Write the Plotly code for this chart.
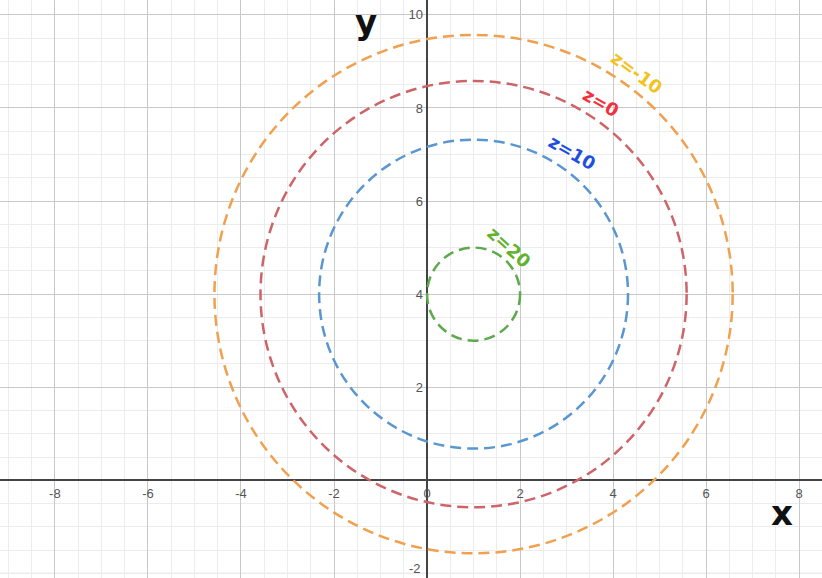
import plotly.graph_objects as go

# ---- data ----
levels = [-10, 0, 10, 20]
radii = [5.57, 4.58, 3.32, 1.0]
center_x = 1.0
center_y = 4.0
level_labels = ["z=-10", "z=0", "z=10", "z=20"]
label_x = [4.51, 3.74, 3.12, 1.78]
label_y = [8.77, 8.12, 7.05, 5.01]
x_tick_vals = [-8, -6, -4, -2, 0, 2, 4, 6, 8]
x_tick_text = ["-8", "-6", "-4", "-2", "0", "2", "4", "6", "8"]
y_tick_vals = [2, 4, 6, 8, 10]
y_tick_text = ["2", "4", "6", "8", "10"]
y_edge_tick_val = -2
y_edge_tick_text = "-2"

# ---- style ----
circle_colors = ["#f0a04e", "#cc6468", "#5a96d0", "#5caa4c"]
label_colors = ["#f2c21e", "#f2303e", "#1f4fe0", "#62b22e"]
label_angles = [36, 30, 30, 42]
x_range = [-9.18, 8.49]
y_range = [-2.1, 10.32]
tick_font = dict(family="Liberation Sans", size=13, color="#555555")

fig = go.Figure()
# invisible trace to establish axes
fig.add_trace(go.Scatter(x=[center_x], y=[center_y], mode="markers",
                         marker=dict(opacity=0), showlegend=False, hoverinfo="skip"))

for r, c in zip(radii, circle_colors):
    fig.add_shape(type="circle", xref="x", yref="y",
                  x0=center_x - r, x1=center_x + r,
                  y0=center_y - r, y1=center_y + r,
                  line=dict(color=c, width=2.5, dash="11px,6px"))

for txt, lx, ly, col, ang in zip(level_labels, label_x, label_y, label_colors, label_angles):
    fig.add_annotation(x=lx, y=ly, xref="x", yref="y", text="<b>" + txt + "</b>", showarrow=False,
                       textangle=ang, font=dict(family="DejaVu Sans", size=18, color=col))

fig.add_annotation(x=-1.31, y=9.84, xref="x", yref="y", text="<b>y</b>", showarrow=False,
                   font=dict(family="DejaVu Sans", size=34, color="#111111"))
fig.add_annotation(x=7.63, y=-0.71, xref="x", yref="y", text="<b>x</b>", showarrow=False,
                   font=dict(family="DejaVu Sans", size=34, color="#111111"))

# edge tick label (kept fully inside the frame)
fig.add_annotation(x=0, y=y_edge_tick_val, xref="x", yref="y", text=y_edge_tick_text,
                   showarrow=False, xanchor="right", yanchor="middle", xshift=-4, yshift=5,
                   font=tick_font)

fig.update_layout(
    width=822, height=578,
    margin=dict(l=0, r=0, t=0, b=0, autoexpand=False),
    paper_bgcolor="white", plot_bgcolor="white",
    showlegend=False,
    xaxis=dict(range=x_range, anchor="free", position=(0 - y_range[0]) / (y_range[1] - y_range[0]),
               automargin=False, ticklabeloverflow="allow",
               tickvals=x_tick_vals, ticktext=x_tick_text, ticks="", ticklabelstandoff=4,
               tickfont=tick_font,
               showgrid=True, gridcolor="#c9c9c9", gridwidth=1,
               zeroline=True, zerolinecolor="#444444", zerolinewidth=1.6,
               minor=dict(dtick=0.5, tick0=0, showgrid=True, gridcolor="#ececec", gridwidth=1),
               showline=False, fixedrange=True),
    yaxis=dict(range=y_range, anchor="free", position=(0 - x_range[0]) / (x_range[1] - x_range[0]),
               automargin=False, ticklabeloverflow="allow",
               tickvals=y_tick_vals, ticktext=y_tick_text, ticks="", ticklabelstandoff=4,
               tickfont=tick_font,
               showgrid=True, gridcolor="#c9c9c9", gridwidth=1,
               zeroline=True, zerolinecolor="#444444", zerolinewidth=1.6,
               minor=dict(dtick=0.5, tick0=0, showgrid=True, gridcolor="#ececec", gridwidth=1),
               showline=False, fixedrange=True),
)
# major gridline at y=-2 (label handled by annotation)
fig.add_hline(y=y_edge_tick_val, line=dict(color="#c9c9c9", width=1), layer="below")

fig.write_html("out.html", config={"displayModeBar": False, "staticPlot": True},
               post_script="document.body.style.margin='0';document.body.style.overflow='hidden';")
